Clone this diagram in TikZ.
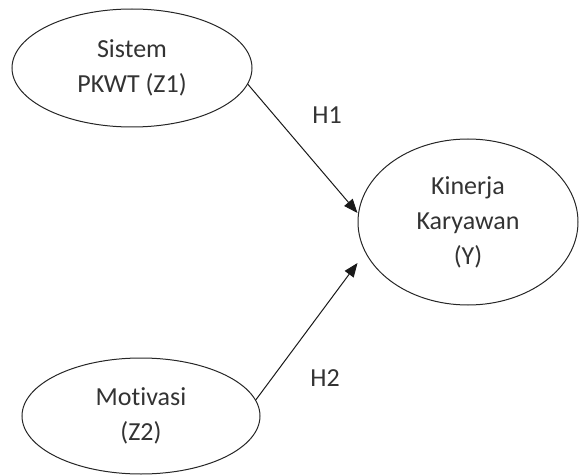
\documentclass[tikz,border=0pt]{standalone}
\usepackage{fontspec}
\setmainfont[Ligatures=NoCommon]{Carlito}
\usetikzlibrary{shapes.geometric,arrows.meta}

\begin{document}
\begin{tikzpicture}[x=1pt,y=1pt,%
  var/.style={draw=black!85,ellipse,line width=1pt,inner sep=0pt,align=center,
    text=black!80,font=\fontsize{26}{35}\selectfont},
  hyp/.style={text=black!80,font=\fontsize{26}{30}\selectfont},
  pengaruh/.style={draw=black!90,line width=1pt,-{Triangle[length=14pt,width=11pt]}}]
\useasboundingbox (0,0) rectangle (579,475);
\node[var,minimum width=240pt,minimum height=118pt] (z1) at (132,407) {Sistem\\PKWT (Z1)};
\node[var,minimum width=220pt,minimum height=166pt] (y) at (468,253) {Kinerja\\Karyawan\\(Y)};
\node[var,minimum width=238pt,minimum height=116pt] (z2) at (141,59) {Motivasi\\(Z2)};
% hipotesis
\node[hyp] (h1) at (327,360) {H1};
\node[hyp] (h2) at (325,97) {H2};
\draw[pengaruh] (z1.-8) -- ([yshift=9pt]y.west);
\draw[pengaruh] (z2.8) -- ([yshift=-41pt]y.west);
\end{tikzpicture}
\end{document}
